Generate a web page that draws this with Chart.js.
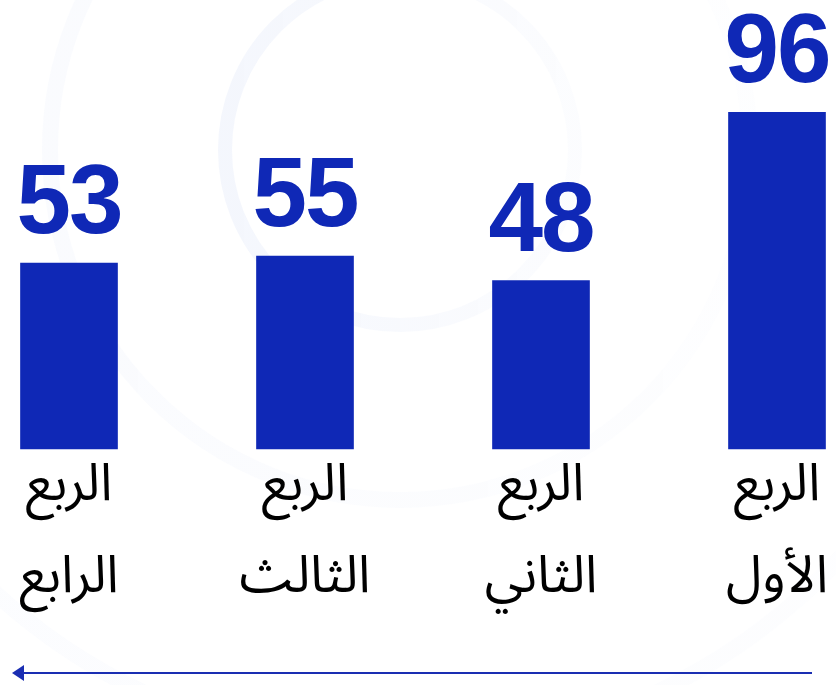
<!DOCTYPE html>
<html lang="ar">
<head>
<meta charset="utf-8">
<title>الأرباع</title>
<script src="https://cdn.jsdelivr.net/npm/chart.js@4.4.1/dist/chart.umd.min.js"></script>
<style>
    html, body { margin: 0; padding: 0; background: #ffffff; }
    #wrap { position: relative; width: 836px; height: 685px; }
</style>
</head>
<body>
<div id="wrap"><canvas id="chart"></canvas></div>
<script>
// Quarter data (right to left: first quarter on the right)
const quarterNames = [
    ['الربع', 'الأول'],
    ['الربع', 'الثاني'],
    ['الربع', 'الثالث'],
    ['الربع', 'الرابع']
];
const quarterValues = [96, 48, 55, 53];

const BAR_BLUE = '#0f28b6';

// faint rings in the background
const ringsPlugin = {
    id: 'rings',
    beforeDraw(chart) {
        const ctx = chart.ctx;
        ctx.save();
        const rings = [
            { r: 175, w: 14, a: 0.05 },
            { r: 350, w: 16, a: 0.025 },
            { r: 600, w: 16, a: 0.018 }
        ];
        rings.forEach(g => {
            const grad = ctx.createLinearGradient(400 - g.r, 0, 400 + g.r, 0);
            grad.addColorStop(0, `rgba(40,90,210,${g.a})`);
            grad.addColorStop(1, `rgba(40,90,210,${g.a * 0.35})`);
            ctx.beginPath();
            ctx.arc(400, 150, g.r, 0, Math.PI * 2);
            ctx.lineWidth = g.w;
            ctx.strokeStyle = grad;
            ctx.stroke();
        });
        ctx.restore();
    }
};

// big numbers above bars + arrow under the axis
const valueLabels = {
    id: 'valueLabels',
    afterDatasetsDraw(chart) {
        const ctx = chart.ctx;
        const meta = chart.getDatasetMeta(0);
        ctx.save();
        ctx.fillStyle = BAR_BLUE;
        ctx.font = 'bold 98px "Liberation Sans", Arial, sans-serif';
        ctx.textAlign = 'center';
        ctx.textBaseline = 'alphabetic';
        try { ctx.letterSpacing = '-2px'; } catch (e) {}
        meta.data.forEach((bar, i) => {
            ctx.fillText(String(quarterValues[i]), bar.x, bar.y - 30);
        });
        ctx.restore();
    },
    afterDraw(chart) {
        const ctx = chart.ctx;
        const y = 673;
        ctx.save();
        ctx.strokeStyle = '#1a2eb2';
        ctx.fillStyle = '#1a2eb2';
        ctx.lineWidth = 2;
        ctx.beginPath();
        ctx.moveTo(812, y);
        ctx.lineTo(20, y);
        ctx.stroke();
        ctx.beginPath();
        ctx.moveTo(12, y);
        ctx.lineTo(24, y - 8);
        ctx.lineTo(24, y + 8);
        ctx.closePath();
        ctx.fill();
        ctx.restore();
    }
};

new Chart(document.getElementById('chart'), {
    type: 'bar',
    data: {
        labels: quarterNames,
        datasets: [{
            data: quarterValues,
            backgroundColor: BAR_BLUE,
            barThickness: 97,
            clip: false
        }]
    },
    options: {
        responsive: true,
        maintainAspectRatio: false,
        animation: false,
        layout: { padding: { left: 69, right: 59, top: 0, bottom: 54 } },
        plugins: { legend: { display: false }, tooltip: { enabled: false } },
        scales: {
            x: {
                reverse: true,
                offset: false,
                grid: { display: false },
                border: { display: false },
                afterFit(scale) { scale.height = 182; },
                ticks: {
                    color: '#000000',
                    padding: -11,
                    maxRotation: 0,
                    autoSkip: false,
                    font: { family: '"Noto Sans Arabic", "DejaVu Sans", sans-serif', size: 52, lineHeight: 92 / 52 }
                }
            },
            y: {
                display: false,
                min: 0,
                max: 128
            }
        }
    },
    plugins: [ringsPlugin, valueLabels]
});
</script>
</body>
</html>
